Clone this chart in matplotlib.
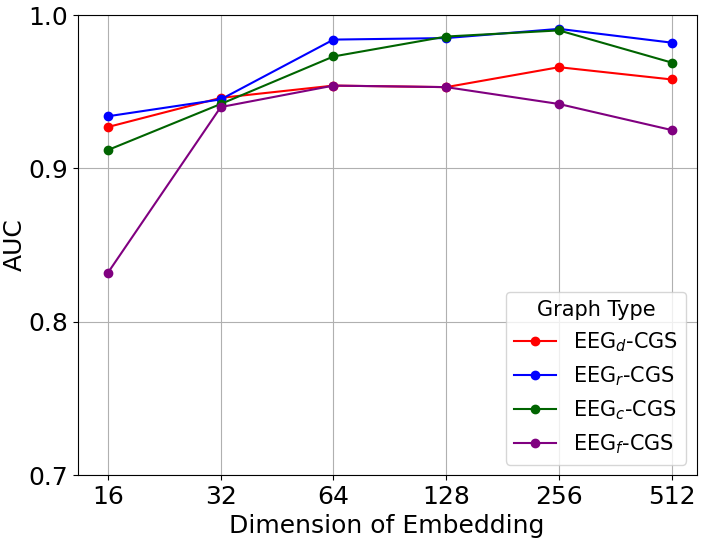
import matplotlib
matplotlib.use('Agg')
import matplotlib.pyplot as plt

dims = ['16', '32', '64', '128', '256', '512']
auc_d = [0.927, 0.946, 0.954, 0.953, 0.966, 0.958]
auc_r = [0.934, 0.945, 0.984, 0.985, 0.991, 0.982]
auc_c = [0.912, 0.942, 0.973, 0.986, 0.990, 0.969]
auc_f = [0.832, 0.940, 0.954, 0.953, 0.942, 0.925]

labels = ['EEG$_d$-CGS', 'EEG$_r$-CGS', 'EEG$_c$-CGS', 'EEG$_f$-CGS']
colors = ['red', 'blue', 'darkgreen', 'purple']

fig, ax = plt.subplots(figsize=(7.05, 5.38), dpi=100)
x = range(len(dims))
for vals, lab, col in zip([auc_d, auc_r, auc_c, auc_f], labels, colors):
    ax.plot(x, vals, marker='o', color=col, label=lab, linewidth=1.5, markersize=6)

ax.set_xticks(list(x))
ax.set_xticklabels(dims)
ax.set_ylim(0.7, 1.0)
ax.set_yticks([0.7, 0.8, 0.9, 1.0])
ax.set_xlim(-0.27, 5.22)
ax.grid(True, color='#b0b0b0')
ax.tick_params(labelsize=18)
ax.set_xlabel('Dimension of Embedding', fontsize=18)
ax.set_ylabel('AUC', fontsize=18, labelpad=1)
leg = ax.legend(title='Graph Type', fontsize=15, title_fontsize=15, loc='lower right')

plt.subplots_adjust(left=0.11, right=0.988, top=0.972, bottom=0.117)
plt.savefig('out.png')
